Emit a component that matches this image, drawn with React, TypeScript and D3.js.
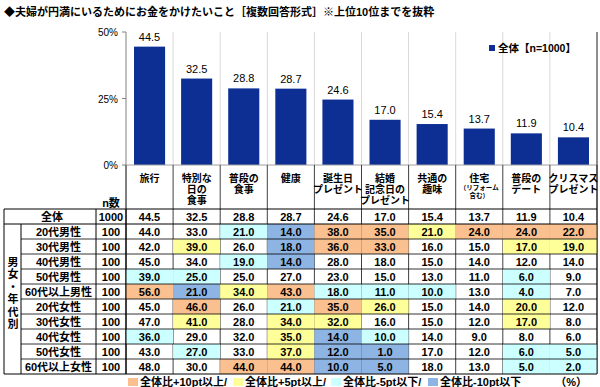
import React from 'react';
import * as d3 from 'd3';

// --- data ---
const title = '◆夫婦が円満にいるためにお金をかけたいこと［複数回答形式］※上位10位までを抜粋';
const categories = ['旅行', '特別な\n日の\n食事', '普段の\n食事', '健康', '誕生日\nプレゼント', '結婚\n記念日の\nプレゼント', '共通の\n趣味', '住宅', '普段の\nデート', 'クリスマス\nプレゼント'];
const categoryNotes = ['', '', '', '', '', '', '', '（リフォーム\n含む）', '', ''];
const overallN = 1000;
const overall = [44.5, 32.5, 28.8, 28.7, 24.6, 17.0, 15.4, 13.7, 11.9, 10.4];
const segments = ['20代男性', '30代男性', '40代男性', '50代男性', '60代以上男性', '20代女性', '30代女性', '40代女性', '50代女性', '60代以上女性'];
const segmentN = [100, 100, 100, 100, 100, 100, 100, 100, 100, 100];
const segmentValues = [
  [44.0, 33.0, 21.0, 14.0, 38.0, 35.0, 21.0, 24.0, 24.0, 22.0],
  [42.0, 39.0, 26.0, 18.0, 36.0, 33.0, 16.0, 15.0, 17.0, 19.0],
  [45.0, 34.0, 19.0, 14.0, 28.0, 18.0, 15.0, 14.0, 12.0, 14.0],
  [39.0, 25.0, 25.0, 27.0, 23.0, 15.0, 13.0, 11.0, 6.0, 9.0],
  [56.0, 21.0, 34.0, 43.0, 18.0, 11.0, 10.0, 13.0, 4.0, 7.0],
  [45.0, 46.0, 26.0, 21.0, 35.0, 26.0, 15.0, 14.0, 20.0, 12.0],
  [47.0, 41.0, 28.0, 34.0, 32.0, 16.0, 15.0, 12.0, 17.0, 8.0],
  [36.0, 29.0, 32.0, 35.0, 14.0, 10.0, 14.0, 9.0, 8.0, 6.0],
  [43.0, 27.0, 33.0, 37.0, 12.0, 1.0, 17.0, 12.0, 6.0, 5.0],
  [48.0, 30.0, 44.0, 44.0, 10.0, 5.0, 18.0, 13.0, 5.0, 2.0],
];
const yTicks = [0, 25, 50];
const seriesLabel = '全体【n=1000】';
const groupLabel = '男女・年代別';
const legendLabels = ['全体比+10pt以上/', '全体比+5pt以上/', '全体比-5pt以下/', '全体比-10pt以下'];

// --- styles ---
const BAR = '#0d2f94';
const C_UP10 = '#fac08f';
const C_UP5 = '#ffff99';
const C_DN5 = '#ccffff';
const C_DN10 = '#8db4e2';
const legendColors = [C_UP10, C_UP5, C_DN5, C_DN10];
const FONT = '"Liberation Sans", Arial, "Noto Sans CJK JP", sans-serif';

function cellColor(v: number, base: number) {
  const d = v - base;
  if (d >= 10) return C_UP10;
  if (d >= 5) return C_UP5;
  if (d <= -10) return C_DN10;
  if (d <= -5) return C_DN5;
  return 'none';
}

export default function App() {
  const W = 600, H = 387;
  const left = 126, right = 597;
  const tableLeft = 4, labelSplit = 21, nLeft = 96;
  const tableTop = 209, tableBottom = 374;

  const x = d3.scaleBand<number>().domain(d3.range(categories.length)).range([left, right]).paddingInner(0.34).paddingOuter(0.17);
  const step = x.step();
  const colLeft = (i: number) => left + i * step;
  const y = d3.scaleLinear().domain([0, 50]).range([165, 32]);
  const rowKeys = ['全体', ...segments];
  const row = d3.scaleBand<string>().domain(rowKeys).range([tableTop, tableBottom]);
  const rh = row.bandwidth();

  const rowsVals = [overall, ...segmentValues];
  const rowsN = [overallN, ...segmentN];

  const legendX = [128, 233, 331, 428];

  return (
    <svg width={W} height={H} style={{ position: 'absolute', left: 0, top: 0, background: '#fff' }} fontFamily={FONT}>
      <text x={4} y={16} fontSize={11} fontWeight="bold">{title}</text>

      {/* gridlines */}
      {d3.range(1, categories.length + 1).map(i => (
        <line key={'g' + i} x1={colLeft(i)} x2={colLeft(i)} y1={y(50)} y2={y(0)} stroke="#d9d9d9" />
      ))}
      {/* bars */}
      {overall.map((v, i) => (
        <g key={'b' + i}>
          <rect x={x(i)} y={y(v)} width={x.bandwidth()} height={y(0) - y(v)} fill={BAR} />
          <text x={x(i)! + x.bandwidth() / 2} y={y(v) - 6} textAnchor="middle" fontSize={11}>{v.toFixed(1)}</text>
        </g>
      ))}
      {/* axes */}
      <line x1={left} x2={left} y1={y(50)} y2={tableBottom} stroke="#808080" />
      <line x1={left} x2={right} y1={y(0)} y2={y(0)} stroke="#a0a0a0" />
      {yTicks.map(t => (
        <g key={'t' + t}>
          <line x1={left - 4} x2={left} y1={y(t)} y2={y(t)} stroke="#808080" />
          <text x={left - 8} y={y(t) + 4} textAnchor="end" fontSize={10}>{t}%</text>
        </g>
      ))}

      {/* series legend */}
      <rect x={489} y={45} width={6} height={6} fill={BAR} />
      <text x={498} y={52} fontSize={10.5} fontWeight="bold">{seriesLabel}</text>

      {/* header column lines and category labels */}
      {d3.range(0, categories.length + 1).map(i => (
        <line key={'h' + i} x1={colLeft(i)} x2={colLeft(i)} y1={y(0)} y2={tableBottom} stroke="#404040" />
      ))}
      {categories.map((c, i) => {
        const cx = colLeft(i) + step / 2;
        const lines = c.split('\n');
        const notes = categoryNotes[i] ? categoryNotes[i].split('\n') : [];
        return (
          <g key={'c' + i} fontWeight="bold" textAnchor="middle">
            {lines.map((l, j) => (
              <text key={j} x={cx} y={182 + j * 11} fontSize={10}>{l}</text>
            ))}
            {notes.map((l, j) => (
              <text key={'n' + j} x={cx} y={190 + j * 8} fontSize={6.5}>{l}</text>
            ))}
          </g>
        );
      })}
      <text x={(nLeft + left) / 2} y={207} textAnchor="middle" fontSize={11} fontWeight="bold">n数</text>

      {/* table cells */}
      {rowsVals.map((vals, r) => {
        const ry = row(rowKeys[r])!;
        return (
          <g key={'r' + r}>
            {vals.map((v, i) => {
              const fill = r === 0 ? 'none' : cellColor(v, overall[i]);
              return fill === 'none' ? null : (
                <rect key={'f' + i} x={colLeft(i)} y={ry} width={step} height={rh} fill={fill} />
              );
            })}
            {vals.map((v, i) => (
              <text key={'v' + i} x={colLeft(i) + step / 2} y={ry + rh / 2 + 4} textAnchor="middle" fontSize={11} fontWeight="bold">{v.toFixed(1)}</text>
            ))}
            <text x={(nLeft + left) / 2} y={ry + rh / 2 + 4} textAnchor="middle" fontSize={11} fontWeight="bold">{rowsN[r]}</text>
            <text x={r === 0 ? (tableLeft + nLeft) / 2 + 2 : (labelSplit + nLeft) / 2} y={ry + rh / 2 + 4} textAnchor="middle" fontSize={11} fontWeight="bold">{rowKeys[r]}</text>
          </g>
        );
      })}

      {/* table grid */}
      <line x1={tableLeft} x2={right} y1={tableTop} y2={tableTop} stroke="#000" />
      <line x1={tableLeft} x2={right} y1={tableBottom} y2={tableBottom} stroke="#000" />
      <line x1={tableLeft} x2={right} y1={tableTop + rh} y2={tableTop + rh} stroke="#000" />
      {rowKeys.slice(2).map(k => (
        <line key={'rl' + k} x1={labelSplit} x2={right} y1={row(k)!} y2={row(k)!} stroke="#000" strokeWidth={0.8} />
      ))}
      <line x1={tableLeft} x2={tableLeft} y1={tableTop} y2={tableBottom} stroke="#000" />
      <line x1={labelSplit} x2={labelSplit} y1={tableTop + rh} y2={tableBottom} stroke="#000" />
      <line x1={nLeft} x2={nLeft} y1={tableTop} y2={tableBottom} stroke="#000" />
      <line x1={left} x2={left} y1={tableTop} y2={tableBottom} stroke="#000" />
      <line x1={right} x2={right} y1={y(50)} y2={tableBottom} stroke="#000" strokeWidth={0.8} />

      {/* vertical group label */}
      {groupLabel.split('').map((ch, j, arr) => (
        <text key={'gl' + j} x={(tableLeft + labelSplit) / 2 + 0.5} y={(tableTop + rh + tableBottom) / 2 - 6 + (j - (arr.length - 1) / 2) * 12.5 + 4} textAnchor="middle" fontSize={11} fontWeight="bold">{ch}</text>
      ))}

      {/* color legend */}
      {legendLabels.map((l, i) => (
        <g key={'lg' + i}>
          <rect x={legendX[i]} y={378} width={10} height={8} fill={legendColors[i]} />
          <text x={legendX[i] + 12} y={386} fontSize={11} fontWeight="bold">{l}</text>
        </g>
      ))}
      <text x={587} y={386} textAnchor="end" fontSize={11} fontWeight="bold">（%）</text>
    </svg>
  );
}
